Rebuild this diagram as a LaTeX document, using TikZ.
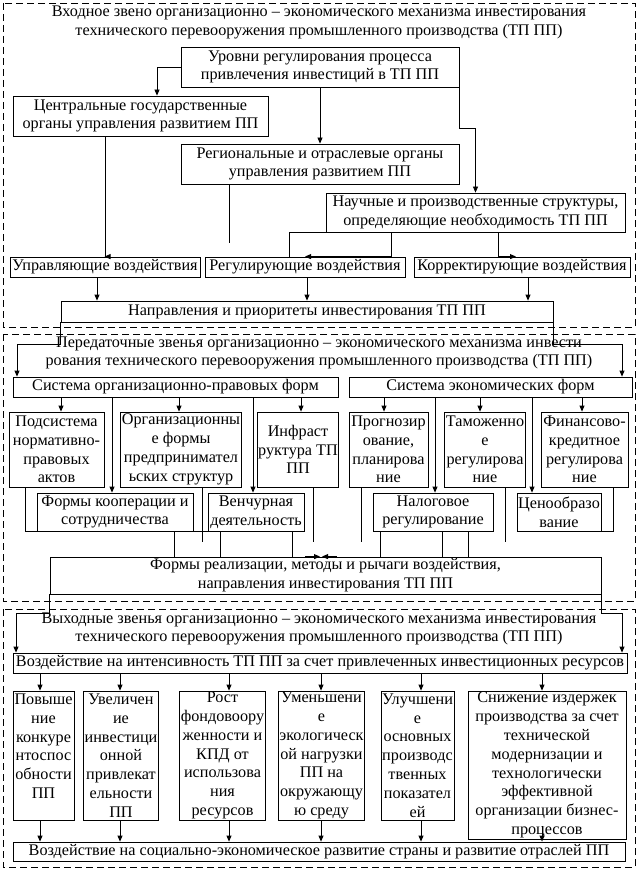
\documentclass[tikz,border=0pt]{standalone}
\usepackage{fontspec}
\setmainfont{Liberation Serif}
\usetikzlibrary{arrows.meta}

\begin{document}
\begin{tikzpicture}[
  x=1pt, y=-1pt,
  box/.style={draw, align=center, inner sep=1pt},
  arrow/.style={-{Triangle[length=6pt,width=5pt]}},
  frame/.style={dash pattern=on 7pt off 4pt},
  every node/.style={font=\fontsize{16.2}{18.8}\selectfont},
  line width=0.8pt
]
\useasboundingbox (0,0) rectangle (638,877);

% входное звено
\draw[frame] (3,3) rectangle (635,327);
\node[align=center] (title1) at (319,22.5)
  {Входное звено организационно – экономического механизма инвестирования\\
   технического перевооружения промышленного производства (ТП ПП)};

\node[box, minimum width=278pt, minimum height=40pt] (levels) at (320,67)
  {Уровни регулирования процесса\\привлечения инвестиций в ТП ПП};
\node[box, minimum width=255pt, minimum height=40pt] (central) at (140.5,116)
  {Центральные государственные\\органы управления развитием ПП};
\node[box, minimum width=278pt, minimum height=40pt] (regional) at (320,164)
  {Региональные и отраслевые органы\\управления развитием ПП};
\node[box, minimum width=299pt, minimum height=39pt] (science) at (475.5,212.5)
  {Научные и производственные структуры,\\определяющие необходимость ТП ПП};
\node[box, minimum width=190pt, minimum height=20pt] (manage) at (105,267) {Управляющие воздействия};
\node[box, minimum width=200pt, minimum height=20pt] (regulate) at (305,267) {Регулирующие воздействия};
\node[box, minimum width=216pt, minimum height=20pt] (correct) at (522,267) {Корректирующие воздействия};
\node[box, minimum width=492pt, minimum height=21pt] (directions) at (307,311.5)
  {Направления и приоритеты инвестирования ТП ПП};

\draw[arrow] (levels.west) -| (central.north -| 157,0);
\draw[arrow] (levels.south) -- (regional.north);
\draw[arrow] (levels.south east) -- ++(0,41) -| (science.north);
\draw[arrow] (central.south -| manage.north) -- (manage.north) -- ++(-0.5,0);
\coordinate (regend) at (229,243);
\draw (regional.south -| regend) -- (regend);
\draw (science.south west) -| (regulate.north -| 289,0);
\draw[arrow] (science.south -| 391,0) |- (regulate.north);
\draw[arrow] (science.south -| 498,0) |- (correct.north -| 516,0);
\draw[arrow] (manage.south -| 97,0) -- (directions.north -| 97,0);
\draw[arrow] (regulate.south -| 307,0) -- (directions.north -| 307,0);
\draw[arrow] (correct.south -| 528,0) -- (directions.north -| 528,0);

% передаточные звенья
\draw[frame] (3,334) rectangle (635,601);
\node[align=center] (title2) at (319,353)
  {Передаточные звенья организационно – экономического механизма инвести\\
   рования технического перевооружения промышленного производства (ТП ПП)};

\node[box, minimum width=325pt, minimum height=20pt] (legal) at (175.5,387) {Система организационно-правовых форм};
\node[box, minimum width=283pt, minimum height=20pt] (econ) at (490.5,387) {Система экономических форм};

\node[box, minimum width=95pt, minimum height=75pt] (acts) at (56.5,449.5)
  {Подсистема\\нормативно-\\правовых\\актов};
\node[box, minimum width=120pt, minimum height=75pt] (entre) at (181,449.5)
  {Организационны\\е формы\\предпринимател\\ьских структур};
\node[box, minimum width=72pt, minimum height=75pt] (infra) at (298,449.5)
  {Инфраст\\руктура ТП\\ПП};
\node[box, minimum width=79pt, minimum height=75pt] (forecast) at (388.5,449.5)
  {Прогнозир\\ование,\\планирова\\ние};
\node[box, minimum width=80pt, minimum height=75pt] (customs) at (485,449.5)
  {Таможенно\\е\\регулирова\\ние};
\node[box, minimum width=87pt, minimum height=75pt] (finance) at (584.5,449.5)
  {Финансово-\\кредитное\\регулирова\\ние};

\node[box, minimum width=156pt, minimum height=38pt] (coop) at (115,512)
  {Формы кооперации и\\сотрудничества};
\node[box, minimum width=96pt, minimum height=38pt] (venture) at (256,512)
  {Венчурная\\деятельность};
\node[box, minimum width=120pt, minimum height=38pt] (tax) at (433,512)
  {Налоговое\\регулирование};
\node[box, minimum width=84pt, minimum height=38pt] (price) at (559,512)
  {Ценообразо\\вание};
\node[box, minimum width=551pt, minimum height=37pt] (forms) at (325.5,575.5)
  {Формы реализации, методы и рычаги воздействия,\\направления инвестирования ТП ПП};

\draw[arrow] (directions.south west) |- (17,344) -- (legal.north -| 17,0);
\draw[arrow] (directions.south east) |- (622,344) -- (econ.north -| 622,0);
\foreach \x in {61,179,301}
  \draw[arrow] (legal.south -| \x,0) -- (acts.north -| \x,0);
\draw[arrow] (legal.south -| 112,0) -- (coop.north -| 112,0);
\draw[arrow] (legal.south -| 253,0) -- (venture.north -| 253,0);
\foreach \x in {384,480,582}
  \draw[arrow] (econ.south -| \x,0) -- (forecast.north -| \x,0);
\draw[arrow] (econ.south -| 435,0) -- (tax.north -| 435,0);
\draw[arrow] (econ.south -| 532,0) -- (price.north -| 532,0);

\draw (acts.south -| 25,0) |- (venture.south west);
\draw (finance.south -| 613,0) |- (price.south east);
\coordinate (loose) at (0,542);
\foreach \x in {202,313,361,505}
  \draw (acts.south -| \x,0) -- (\x,0 |- loose);
\draw (coop.south -| 174,0) -- (forms.north -| 174,0);
\foreach \x in {220,292}
  \draw (venture.south -| \x,0) -- (forms.north -| \x,0);
\foreach \x in {380,442,468}
  \draw (tax.south -| \x,0) -- (forms.north -| \x,0);
\draw[arrow] (forms.north -| 305,0) -- (forms.north -| 320,0);
\draw[arrow] (forms.north -| 337,0) -- (forms.north -| 322,0);

% выходные звенья
\draw[frame] (3,609) rectangle (635,867);
\node[align=center] (title3) at (319,629)
  {Выходные звенья организационно – экономического механизма инвестирования\\
   технического перевооружения промышленного производства (ТП ПП)};

\node[box, minimum width=614pt, minimum height=20pt] (intens) at (320,663)
  {Воздействие на интенсивность ТП ПП за счет привлеченных инвестиционных ресурсов};

\node[box, minimum width=61pt, minimum height=129pt] (compet) at (43.5,755.5)
  {Повыше\\ние\\конкуре\\нтоспос\\обности\\ПП\\\mbox{}};
\node[box, minimum width=66pt, minimum height=129pt] (attract) at (121,755.5)
  {Увеличен\\ие\\инвестици\\онной\\привлекат\\ельности\\ПП};
\node[box, minimum width=83pt, minimum height=129pt] (capital) at (222.5,755.5)
  {Рост\\фондовоору\\женности и\\КПД от\\использова\\ния\\ресурсов};
\node[box, minimum width=81pt, minimum height=129pt] (ecology) at (321.5,755.5)
  {Уменьшени\\е\\экологическ\\ой нагрузки\\ПП на\\окружающу\\ю среду};
\node[box, minimum width=73pt, minimum height=129pt] (indic) at (417.5,755.5)
  {Улучшени\\е\\основных\\производс\\твенных\\показател\\ей};
\node[box, minimum width=158pt, minimum height=148pt] (costs) at (547,765)
  {Снижение издержек\\производства за счет\\технической\\модернизации и\\технологически\\эффективной\\организации бизнес-\\процессов};

\node[box, minimum width=612pt, minimum height=19pt] (social) at (319,851.5)
  {Воздействие на социально-экономическое развитие страны и развитие отраслей ПП};

\draw[arrow] (forms.south west) |- (16,613) -- (intens.north -| 16,0);
\draw[arrow] (forms.south east) |- (622,613) -- (intens.north -| 622,0);
\foreach \x in {40,120,229,321,421,542}
  \draw[arrow] (intens.south -| \x,0) -- (compet.north -| \x,0);
\foreach \x in {40,120,229,321,421}
  \draw[arrow] (compet.south -| \x,0) -- (social.north -| \x,0);
\coordinate (costtail) at (542,826);
\draw[arrow] (costtail) -- (social.north -| costtail);

\end{tikzpicture}
\end{document}
